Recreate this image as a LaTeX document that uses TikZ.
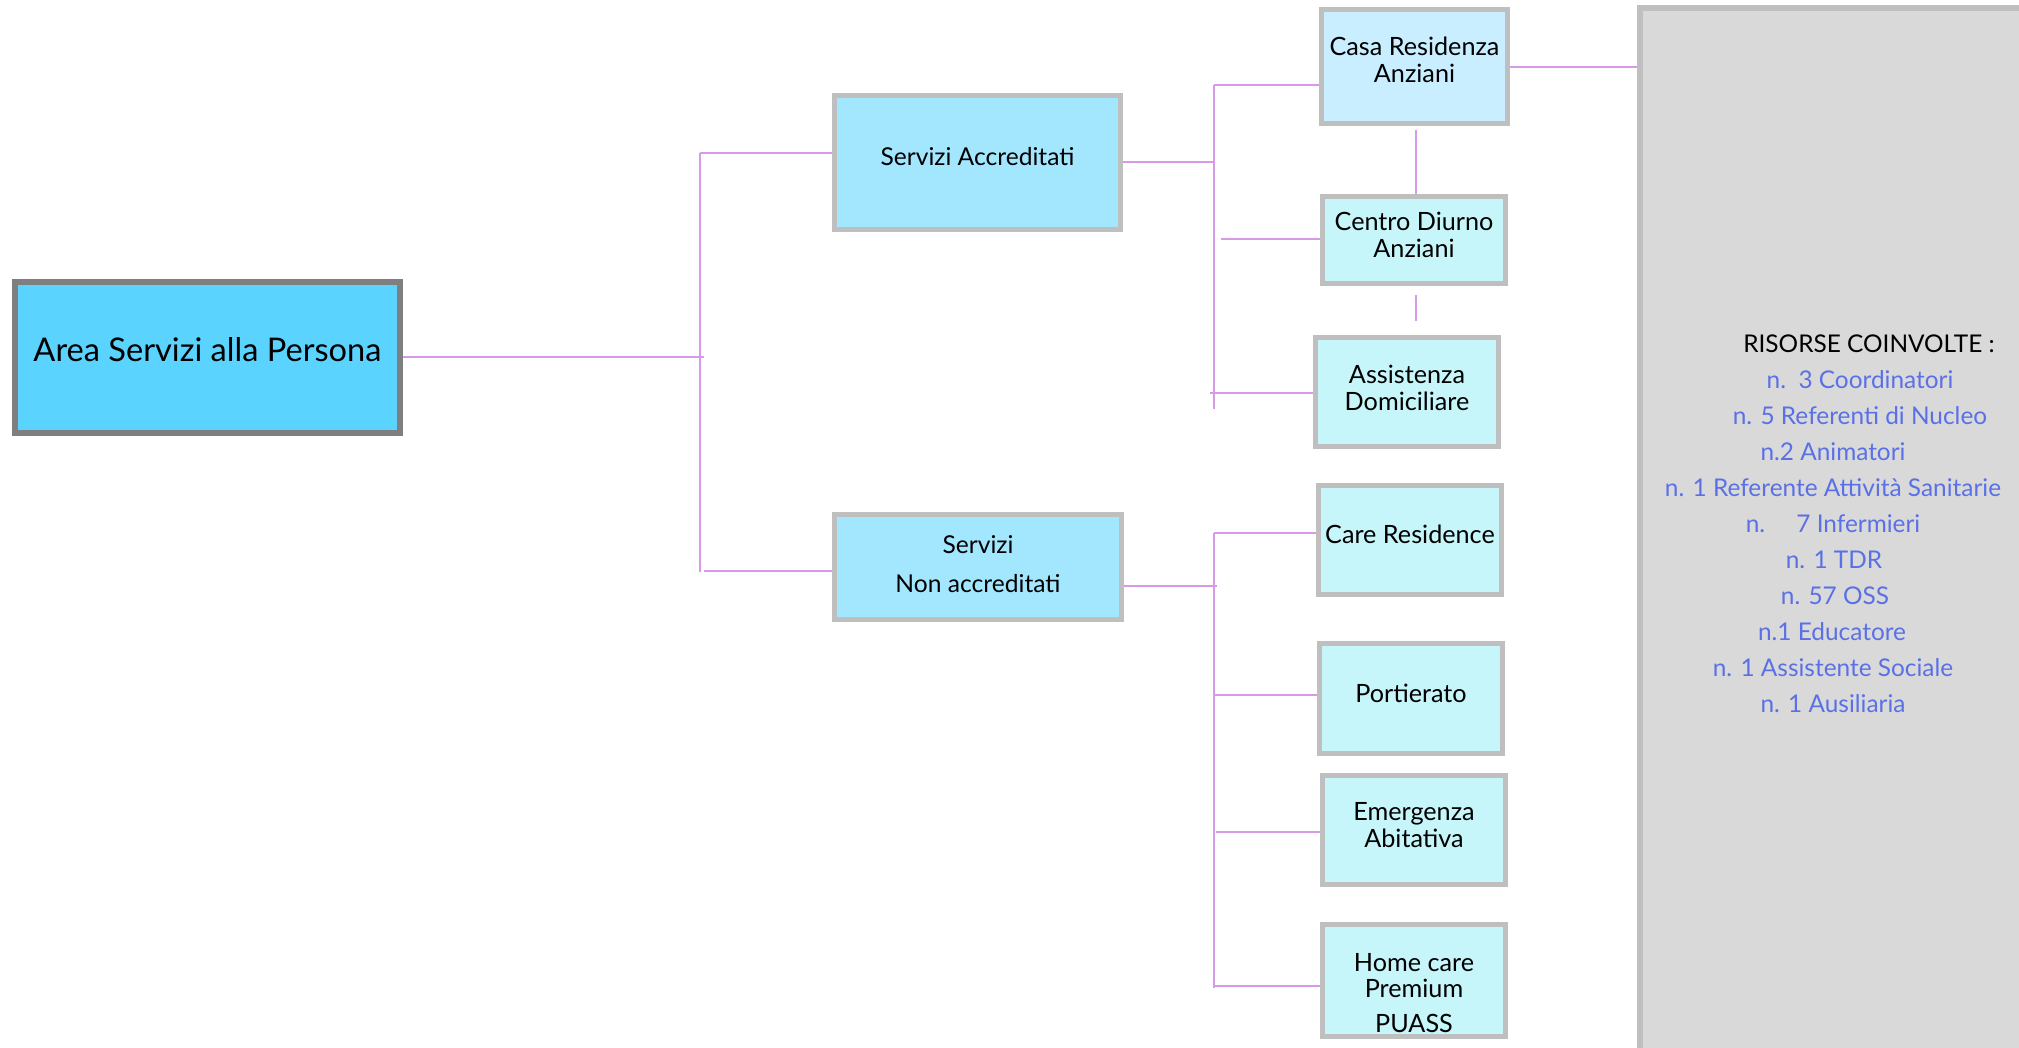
\documentclass[tikz,border=0pt]{standalone}
\usepackage{fontspec}
\setmainfont{Lato}
\definecolor{mainfill}{HTML}{5BD3FF}
\definecolor{mainborder}{HTML}{7F7F7F}
\definecolor{midfill}{HTML}{A3E7FF}
\definecolor{casafill}{HTML}{C9EEFF}
\definecolor{leaffill}{HTML}{C6F5FA}
\definecolor{boxborder}{HTML}{BFBFBF}
\definecolor{panelfill}{HTML}{D9D9D9}
\definecolor{conn}{HTML}{D69AE6}
\definecolor{bluetext}{HTML}{5A70E6}
\newcommand{\boxtxt}[2]{\raisebox{#1}[0pt][0pt]{\begin{tabular}{@{}c@{}}#2\end{tabular}}}
\begin{document}
\begin{tikzpicture}[x=0.5pt,y=-0.5pt,
  boxbase/.style={rectangle,inner sep=0pt,align=center,text=black},
  mainbox/.style={boxbase,draw=mainborder,fill=mainfill,line width=3pt,font=\fontsize{16.3pt}{19pt}\selectfont},
  midbox/.style={boxbase,draw=boxborder,fill=midfill,line width=2.5pt,font=\fontsize{12.3pt}{13.5pt}\selectfont},
  leafbox/.style={boxbase,draw=boxborder,fill=leaffill,line width=2.5pt,font=\fontsize{12.6pt}{13.5pt}\selectfont,minimum width=91.5pt},
  link/.style={draw=conn,line width=0.8pt},
  restxt/.style={inner sep=0pt,font=\fontsize{12.2pt}{13pt}\selectfont,text=bluetext,anchor=base}
]
\useasboundingbox (0,0) rectangle (2019,1048);
\fill[white] (0,0) rectangle (2019,1048);

% gray panel
\node[rectangle,draw=boxborder,fill=panelfill,line width=3pt,inner sep=0pt,
  minimum width=197pt,minimum height=522pt,anchor=north west] (panel) at (1637,5) {};

% boxes
\node[mainbox,minimum width=192.5pt,minimum height=75.5pt] (main) at (207.5,357.5) {\boxtxt{-2.6pt}{Area Servizi alla Persona}};
\node[midbox,minimum width=143pt,minimum height=67pt] (sa) at (977.5,162.5) {\boxtxt{-1.8pt}{Servizi Accreditati}};
\node[midbox,minimum width=143.5pt,minimum height=52.5pt] (sn) at (978,567) {\boxtxt{-3.1pt}{Servizi\\[6pt]Non accreditati}};
\node[leafbox,fill=casafill,minimum width=93pt,minimum height=57pt] (casa) at (1414.5,66.5) {\boxtxt{-1.8pt}{Casa Residenza\\Anziani}};
\node[leafbox,minimum height=43.5pt] (centro) at (1414,240) {\boxtxt{-2.3pt}{Centro Diurno\\Anziani}};
\node[leafbox,minimum height=54.5pt] (assist) at (1407,392) {\boxtxt{-2.6pt}{Assistenza\\Domiciliare}};
\node[leafbox,minimum height=54.5pt] (care) at (1410,540) {\boxtxt{-1.8pt}{Care Residence}};
\node[leafbox,minimum height=55pt] (port) at (1411,698.5) {\boxtxt{-2.3pt}{Portierato}};
\node[leafbox,minimum height=54.5pt] (emerg) at (1414,830) {\boxtxt{-2.3pt}{Emergenza\\Abitativa}};
\node[leafbox,minimum height=56pt] (home) at (1414,980.5) {\boxtxt{-10.9pt}{Home care\\[-0.5pt]Premium\\[4pt]PUASS}};

% connector coordinates
\coordinate (t1a) at (700,153);
\coordinate (t1b) at (700,572);
\coordinate (t1m) at (704,357);
\coordinate (t2a) at (1214,85);
\coordinate (t2b) at (1214,409);
\coordinate (t2m) at (1214,162);
\coordinate (t2c) at (1221,239);
\coordinate (t2d) at (1210,393);
\coordinate (t3a) at (1214,533);
\coordinate (t3b) at (1214,988);
\coordinate (t3m) at (1217,586);
\coordinate (v1) at (1416,130);
\coordinate (v2a) at (1416,295);
\coordinate (v2b) at (1416,321);

% level 1
\draw[link] (main.east |- t1m) -- (t1m);
\draw[link] (t1a) -- (t1b);
\draw[link] (t1a) -- (sa.west |- t1a);
\draw[link] (704,571) -- (sn.west |- 0,571);
% level 2 (accreditati)
\draw[link] (sa.east |- t2m) -- (t2m);
\draw[link] (t2a) -- (t2b);
\draw[link] (t2a) -- (casa.west |- t2a);
\draw[link] (t2c) -- (centro.west |- t2c);
\draw[link] (t2d) -- (assist.west |- t2d);
\draw[link] (casa.east |- 0,67) -- (panel.west |- 0,67);
\draw[link] (v1) -- (centro.north -| v1);
\draw[link] (v2a) -- (v2b);
% level 2 (non accreditati)
\draw[link] (sn.east |- t3m) -- (t3m);
\draw[link] (t3a) -- (t3b);
\draw[link] (t3a) -- (care.west |- t3a);
\draw[link] (1214,695) -- (port.west |- 0,695);
\draw[link] (1216,832) -- (emerg.west |- 0,832);
\draw[link] (1214,986) -- (home.west |- 0,986);

% resources text
\node[restxt,text=black] (r0) at (1869,352) {RISORSE COINVOLTE :};
\node[restxt] (r1) at (1860,388) {n.\ \ 3 Coordinatori};
\node[restxt] (r2) at (1860,424) {n. 5 Referenti di Nucleo};
\node[restxt] (r3) at (1833,460) {n.2 Animatori};
\node[restxt] (r4) at (1833,496) {n. 1 Referente Attività Sanitarie};
\node[restxt] (r5) at (1833,532) {n.\ \ \ \ \ 7 Infermieri};
\node[restxt] (r6) at (1834,568) {n. 1 TDR};
\node[restxt] (r7) at (1835,604) {n. 57 OSS};
\node[restxt] (r8) at (1832,640) {n.1 Educatore};
\node[restxt] (r9) at (1833,676) {n. 1 Assistente Sociale};
\node[restxt] (r10) at (1833,712) {n. 1 Ausiliaria};
\end{tikzpicture}
\end{document}
